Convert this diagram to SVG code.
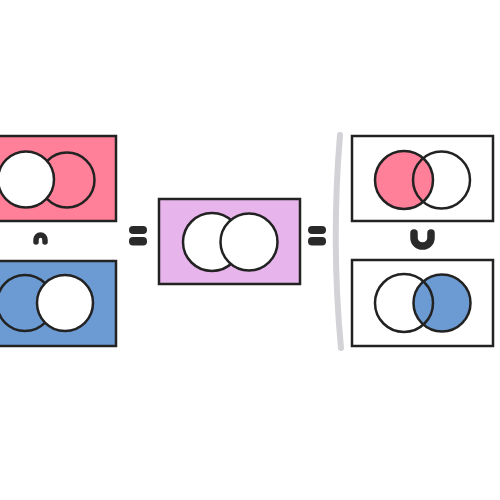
<svg xmlns="http://www.w3.org/2000/svg" width="500" height="500" viewBox="0 0 500 500">
<style>
.box{stroke:#222;stroke-width:2.5}
.c{stroke:#222;stroke-width:2.5}
.op{fill:none;stroke:#2a2a2a;stroke-linecap:round}
.eq{fill:#2a2a2a}
</style>
<rect width="500" height="500" fill="#fff"/>
<g id="setA">
<rect class="box" x="-20" y="136" width="136" height="85" fill="#FF8098"/>
<circle class="c" cx="67" cy="180" r="27.5" fill="#FF8098"/>
<circle class="c" cx="26" cy="179.5" r="28" fill="#fff"/>
</g>
<g id="setB">
<rect class="box" x="-20" y="261" width="136" height="85" fill="#6C9BD3"/>
<circle class="c" cx="25" cy="303" r="28" fill="#6C9BD3"/>
<circle class="c" cx="65" cy="303" r="28" fill="#fff"/>
</g>
<g id="intersection-op">
<path class="op" d="M36 242 L36 240 A 4.5 5 0 0 1 45 240 L45 242" stroke-width="5.5"/>
</g>
<g id="eq1">
<rect class="eq" x="129" y="226" width="18" height="8" rx="4"/>
<rect class="eq" x="129" y="237" width="18" height="8.5" rx="4"/>
</g>
<g id="result">
<rect class="box" x="159" y="199" width="141" height="85" fill="#E8B4EC"/>
<circle class="c" cx="212" cy="242" r="29" fill="#fff"/>
<circle class="c" cx="249" cy="242" r="28.5" fill="#fff"/>
</g>
<g id="eq2">
<rect class="eq" x="308" y="226" width="18" height="8" rx="4"/>
<rect class="eq" x="308" y="237" width="18" height="8.5" rx="4"/>
</g>
<g id="connectors">
<path d="M340 135 Q331 242 341 348" fill="none" stroke="#D3D3D7" stroke-width="6" stroke-linecap="round"/>
</g>
<g id="leftOnly">
<rect class="box" x="352" y="136" width="141" height="85" fill="#fff"/>
<circle class="c" cx="404" cy="180" r="29" fill="#FF8098"/>
<circle class="c" cx="441.5" cy="180" r="28.5" fill="none"/>
</g>
<g id="union-op">
<path class="op" d="M414 233 L414 238 A 8.5 8 0 0 0 431 238 L431 233" stroke-width="7.5"/>
</g>
<g id="rightOnly">
<rect class="box" x="352" y="260" width="141" height="86" fill="#fff"/>
<circle class="c" cx="442" cy="303" r="28.5" fill="#6C9BD3"/>
<circle class="c" cx="404" cy="303" r="29" fill="none"/>
</g>
</svg>
